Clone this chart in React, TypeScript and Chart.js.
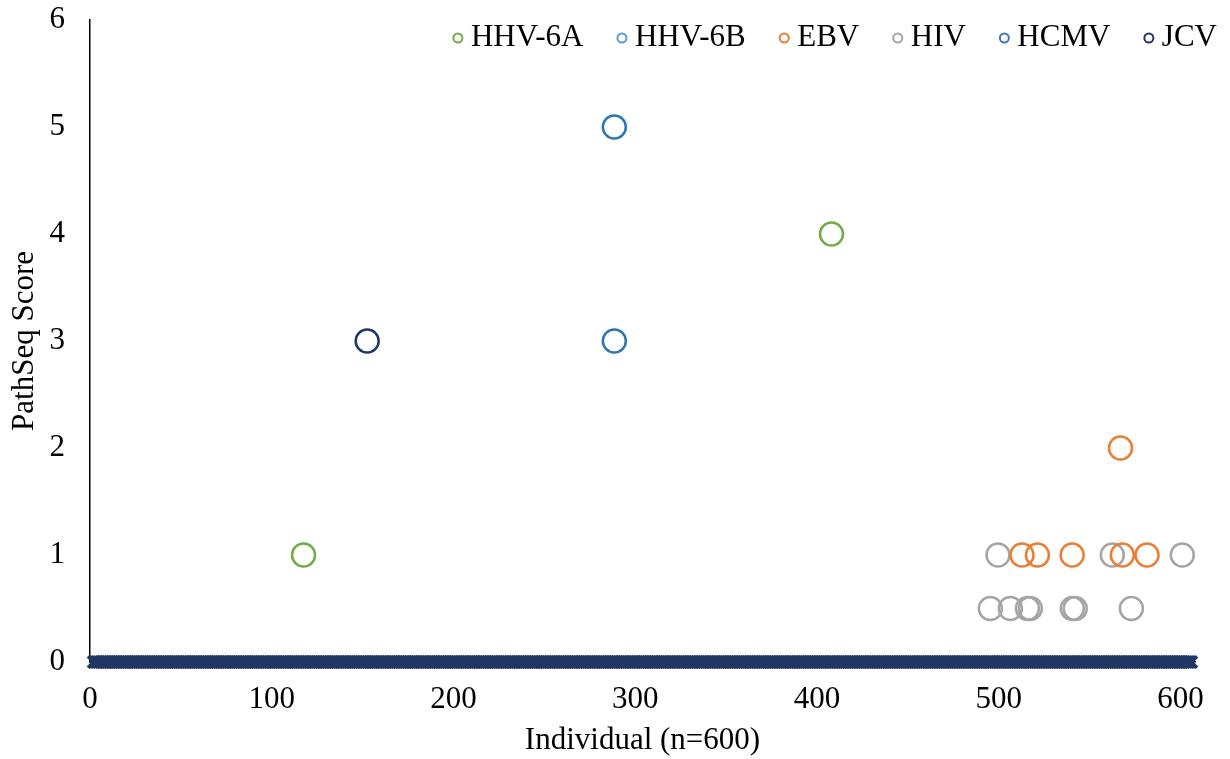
import React, { useEffect, useRef } from "react";
import { Chart, registerables } from "chart.js";

Chart.register(...registerables);

const FONT = "'Liberation Serif', 'Times New Roman', serif";

// Series values (individual index, PathSeq score)
const hhv6aX = [117.5, 408];
const hhv6aY = [1, 4];

const hhv6bX = [288.5, 288.5];
const hhv6bY = [5, 3];

const ebvX = [567, 512.8, 521.3, 540.4, 568, 581.6];
const ebvY = [2, 1, 1, 1, 1, 1];

const hivX = [499.6, 562.5, 601, 495.4, 506.4, 515.8, 517.4, 540.5, 542.1, 573];
const hivY = [1, 1, 1, 0.5, 0.5, 0.5, 0.5, 0.5, 0.5, 0.5];

const hcmvX: number[] = [];
const hcmvY: number[] = [];

const jcvX = [152.5];
const jcvY = [3];

// All individuals with score 0 (baseline row of x markers)
const baselineFirst = 2;
const baselineLast = 606;
const baselineScore = 0;

const legendNames = ["HHV-6A", "HHV-6B", "EBV", "HIV", "HCMV", "JCV"];
const legendColors = ["#70AD47", "#5B9BD5", "#ED7D31", "#A5A5A5", "#4472C4", "#203864"];
const pointColors = ["#70AD47", "#2E75B6", "#ED7D31", "#A5A5A5", "#4472C4", "#203864"];

const xTicks = [0, 100, 200, 300, 400, 500, 600];
const yTicks = [0, 1, 2, 3, 4, 5, 6];

const zip = (xs: number[], ys: number[]) => xs.map((x, i) => ({ x, y: ys[i] }));

const legendPlugin = {
  id: "customLegend",
  afterDraw(chart: any) {
    const ctx = chart.ctx as CanvasRenderingContext2D;
    ctx.save();
    ctx.font = `31px ${FONT}`;
    ctx.textBaseline = "middle";
    ctx.textAlign = "left";
    let x = 1217;
    const y = 38;
    for (let i = legendNames.length - 1; i >= 0; i--) {
      const w = ctx.measureText(legendNames[i]).width;
      const textX = x - w;
      ctx.fillStyle = "#000";
      ctx.fillText(legendNames[i], textX, y);
      const cx = textX - 13;
      ctx.beginPath();
      ctx.arc(cx, y, 4.5, 0, Math.PI * 2);
      ctx.strokeStyle = legendColors[i];
      ctx.lineWidth = 2;
      ctx.stroke();
      x = cx - 38.5;
    }
    ctx.restore();
  },
};

export default function App() {
  const ref = useRef<HTMLCanvasElement>(null);

  useEffect(() => {
    document.body.style.margin = "0";
    const baseline: { x: number; y: number }[] = [];
    for (let i = baselineFirst; i <= baselineLast; i++) baseline.push({ x: i, y: baselineScore });

    const series = [
      zip(hhv6aX, hhv6aY),
      zip(hhv6bX, hhv6bY),
      zip(ebvX, ebvY),
      zip(hivX, hivY),
      zip(hcmvX, hcmvY),
      zip(jcvX, jcvY),
    ];

    const datasets: any[] = series.map((data, i) => ({
      label: legendNames[i],
      data,
      pointStyle: "circle",
      pointRadius: 11.5,
      pointBorderWidth: 2.5,
      pointBorderColor: pointColors[i],
      pointBackgroundColor: "rgba(0,0,0,0)",
      showLine: false,
      clip: false,
    }));
    datasets.push({
      label: "baseline",
      data: baseline,
      pointStyle: "crossRot",
      pointRadius: 8,
      pointBorderWidth: 3.5,
      pointBorderColor: "#203864",
      pointBackgroundColor: "#203864",
      showLine: false,
      clip: false,
    });

    const chart = new Chart(ref.current!, {
      type: "scatter",
      data: { datasets },
      plugins: [legendPlugin],
      options: {
        animation: false,
        responsive: false,
        layout: { padding: { top: 20, right: 35, left: 0, bottom: 0 } },
        plugins: {
          legend: { display: false },
          tooltip: { enabled: false },
        },
        scales: {
          x: {
            type: "linear",
            min: 0,
            max: 608,
            afterBuildTicks: (s: any) => {
              s.ticks = xTicks.map((v) => ({ value: v }));
            },
            afterFit: (s: any) => {
              s.height = 97;
              s.paddingLeft = 0;
              s.paddingRight = 0;
            },
            ticks: { font: { family: FONT, size: 31 }, color: "#000", padding: 19, maxRotation: 0 },
            grid: { drawOnChartArea: false, drawTicks: false },
            border: { display: true, color: "#000", width: 1.5 },
            title: {
              display: true,
              text: "Individual (n=600)",
              font: { family: FONT, size: 31 },
              color: "#000",
              padding: { top: 0, bottom: 0 },
            },
          },
          y: {
            type: "linear",
            min: 0,
            max: 6,
            afterBuildTicks: (s: any) => {
              s.ticks = yTicks.map((v) => ({ value: v }));
            },
            afterFit: (s: any) => {
              s.width = 90;
              s.paddingTop = 0;
              s.paddingBottom = 0;
            },
            ticks: { font: { family: FONT, size: 31 }, color: "#000", padding: 25 },
            grid: { drawOnChartArea: false, drawTicks: false },
            border: { display: true, color: "#000", width: 1.5 },
            title: {
              display: true,
              text: "PathSeq Score",
              font: { family: FONT, size: 31 },
              color: "#000",
              padding: { top: 6, bottom: 0 },
            },
          },
        },
      },
    });
    return () => chart.destroy();
  }, []);

  return <canvas ref={ref} width={1230} height={759} style={{ display: "block" }} />;
}
